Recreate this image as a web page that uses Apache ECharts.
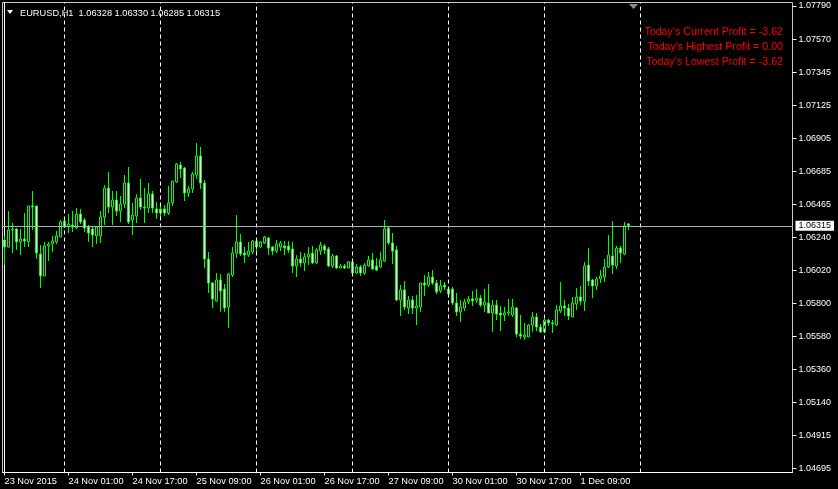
<!DOCTYPE html>
<html><head><meta charset="utf-8">
<script src="https://cdn.jsdelivr.net/npm/echarts@6/dist/echarts.min.js"></script>
<style>html,body{margin:0;padding:0;background:#000;}#c{width:838px;height:489px;}</style>
</head><body><div id="c"></div><script>
const titleText = 'EURUSD,H1  1.06328 1.06330 1.06285 1.06315';
const profitLines = ["Today's Current Profit = -3.62", "Today's Highest Profit = 0.00", "Today's Lowest Profit = -3.62"];
const xLabels = ['23 Nov 2015','24 Nov 01:00','24 Nov 17:00','25 Nov 09:00','26 Nov 01:00','26 Nov 17:00','27 Nov 09:00','30 Nov 01:00','30 Nov 17:00','1 Dec 09:00'];
const xLabelBars = [0,16,32,48,64,80,96,112,128,144];
const daySeparatorBars = [15,39,63,87,111,135,159];
const yLabels = ['1.04695','1.04915','1.05140','1.05360','1.05580','1.05800','1.06020','1.06240','1.06465','1.06685','1.06905','1.07125','1.07345','1.07570','1.07790'];
const lastPrice = 1.06315;

const openP = [1.06220,1.06173,1.06287,1.06294,1.06207,1.06227,1.06207,1.06448,1.06448,1.06126,
1.05979,1.06180,1.06193,1.06207,1.06240,1.06347,1.06307,1.06320,1.06300,1.06394,
1.06354,1.06307,1.06294,1.06247,1.06247,1.06374,1.06568,1.06441,1.06488,1.06414,
1.06461,1.06602,1.06354,1.06381,1.06501,1.06441,1.06434,1.06528,1.06428,1.06401,
1.06428,1.06401,1.06468,1.06609,1.06722,1.06702,1.06535,1.06562,1.06655,1.06783,
1.06602,1.06093,1.05932,1.05811,1.05952,1.05892,1.05771,1.05985,1.06133,1.06207,
1.06133,1.06119,1.06140,1.06213,1.06173,1.06200,1.06233,1.06173,1.06146,1.06173,
1.06180,1.06180,1.06160,1.06046,1.06093,1.06066,1.06106,1.06133,1.06066,1.06146,
1.06180,1.06160,1.06046,1.06113,1.06032,1.06046,1.06032,1.06073,1.05999,1.06039,
1.05999,1.06046,1.06086,1.06046,1.06039,1.06079,1.06300,1.06200,1.06153,1.05818,
1.05885,1.05764,1.05818,1.05764,1.05771,1.05932,1.05918,1.05972,1.05932,1.05878,
1.05918,1.05892,1.05892,1.05798,1.05738,1.05764,1.05805,1.05825,1.05818,1.05831,
1.05784,1.05798,1.05731,1.05784,1.05731,1.05717,1.05731,1.05717,1.05764,1.05590,
1.05570,1.05570,1.05650,1.05704,1.05637,1.05604,1.05684,1.05664,1.05650,1.05744,
1.05778,1.05764,1.05704,1.05791,1.05838,1.05811,1.06052,1.05952,1.05912,1.05959,
1.05972,1.06039,1.06113,1.06046,1.06166,1.06126,1.06328];
const closeP = [1.06173,1.06287,1.06294,1.06207,1.06227,1.06213,1.06448,1.06441,1.06133,1.05979,
1.06180,1.06193,1.06213,1.06247,1.06341,1.06307,1.06327,1.06307,1.06394,1.06341,
1.06300,1.06267,1.06253,1.06307,1.06374,1.06568,1.06441,1.06488,1.06414,1.06461,
1.06602,1.06341,1.06387,1.06501,1.06441,1.06434,1.06528,1.06434,1.06401,1.06428,
1.06401,1.06468,1.06615,1.06729,1.06696,1.06535,1.06562,1.06662,1.06783,1.06602,
1.06093,1.05932,1.05825,1.05952,1.05878,1.05764,1.05992,1.06133,1.06207,1.06126,
1.06119,1.06146,1.06213,1.06173,1.06207,1.06240,1.06166,1.06146,1.06193,1.06200,
1.06166,1.06153,1.06046,1.06093,1.06066,1.06106,1.06126,1.06066,1.06153,1.06186,
1.06153,1.06046,1.06113,1.06032,1.06046,1.06032,1.06073,1.05999,1.06039,1.05999,
1.06052,1.06086,1.06026,1.06019,1.06086,1.06294,1.06200,1.06146,1.05818,1.05885,
1.05771,1.05818,1.05764,1.05778,1.05932,1.05918,1.05972,1.05932,1.05872,1.05912,
1.05905,1.05858,1.05798,1.05738,1.05771,1.05805,1.05825,1.05811,1.05831,1.05784,
1.05805,1.05731,1.05784,1.05724,1.05717,1.05731,1.05738,1.05771,1.05590,1.05577,
1.05583,1.05650,1.05704,1.05637,1.05604,1.05684,1.05664,1.05657,1.05751,1.05778,
1.05764,1.05711,1.05798,1.05838,1.05811,1.06046,1.05945,1.05912,1.05959,1.05979,
1.06039,1.06119,1.06052,1.06166,1.06133,1.06314,1.06315];
const lowP = [1.06052,1.06170,1.06133,1.06153,1.06119,1.06173,1.06173,1.06287,1.06093,1.05898,
1.05979,1.06079,1.06140,1.06193,1.06240,1.06300,1.06267,1.06274,1.06294,1.06327,
1.06274,1.06207,1.06173,1.06193,1.06200,1.06320,1.06401,1.06320,1.06381,1.06341,
1.06434,1.06327,1.06253,1.06334,1.06421,1.06334,1.06401,1.06401,1.06361,1.06374,
1.06381,1.06387,1.06448,1.06602,1.06635,1.06481,1.06508,1.06535,1.06629,1.06562,
1.06032,1.05865,1.05764,1.05805,1.05738,1.05738,1.05630,1.05972,1.06099,1.06113,
1.06066,1.06106,1.06126,1.06133,1.06166,1.06193,1.06119,1.06119,1.06133,1.06146,
1.06119,1.06133,1.05999,1.05972,1.06039,1.06012,1.06052,1.06059,1.06059,1.06119,
1.06126,1.06039,1.06032,1.06026,1.06032,1.06026,1.06032,1.05992,1.05992,1.05979,
1.05985,1.06039,1.06019,1.06012,1.06032,1.06073,1.06186,1.06059,1.05811,1.05711,
1.05751,1.05724,1.05724,1.05650,1.05738,1.05845,1.05905,1.05918,1.05858,1.05865,
1.05885,1.05851,1.05784,1.05711,1.05671,1.05744,1.05791,1.05778,1.05798,1.05771,
1.05738,1.05731,1.05604,1.05684,1.05610,1.05677,1.05711,1.05704,1.05570,1.05557,
1.05550,1.05570,1.05604,1.05610,1.05597,1.05597,1.05644,1.05597,1.05644,1.05731,
1.05711,1.05684,1.05704,1.05751,1.05784,1.05744,1.05912,1.05831,1.05885,1.05932,
1.05939,1.06032,1.05992,1.06026,1.06066,1.06119,1.06285];
const highP = [1.06247,1.06414,1.06334,1.06300,1.06294,1.06401,1.06448,1.06548,1.06448,1.06186,
1.06207,1.06207,1.06247,1.06280,1.06354,1.06354,1.06394,1.06414,1.06434,1.06428,
1.06367,1.06320,1.06307,1.06314,1.06414,1.06588,1.06676,1.06548,1.06548,1.06515,
1.06655,1.06709,1.06468,1.06528,1.06629,1.06568,1.06602,1.06548,1.06474,1.06454,
1.06454,1.06582,1.06615,1.06736,1.06743,1.06709,1.06582,1.06676,1.06870,1.06843,
1.06622,1.06140,1.05939,1.05999,1.05992,1.05925,1.05999,1.06173,1.06387,1.06260,
1.06173,1.06207,1.06220,1.06227,1.06213,1.06247,1.06240,1.06180,1.06220,1.06213,
1.06213,1.06213,1.06207,1.06119,1.06140,1.06133,1.06173,1.06180,1.06166,1.06207,
1.06193,1.06173,1.06126,1.06119,1.06059,1.06059,1.06079,1.06086,1.06059,1.06052,
1.06066,1.06113,1.06133,1.06099,1.06140,1.06354,1.06307,1.06267,1.06180,1.05918,
1.05945,1.05845,1.05845,1.05851,1.05932,1.05985,1.06006,1.06019,1.05952,1.05952,
1.05939,1.05905,1.05905,1.05865,1.05818,1.05825,1.05845,1.05878,1.05892,1.05851,
1.05892,1.05925,1.05818,1.05818,1.05778,1.05771,1.05825,1.05825,1.05771,1.05717,
1.05664,1.05657,1.05738,1.05731,1.05657,1.05691,1.05691,1.05684,1.05784,1.05939,
1.05818,1.05791,1.05838,1.05898,1.05912,1.06073,1.06166,1.05959,1.05972,1.06019,
1.06093,1.06253,1.06347,1.06180,1.06180,1.06341,1.06330];

const candles = openP.map((o, i) => [i, o, closeP[i], lowP[i], highP[i]]);
const FONT = '"Liberation Sans", Arial, sans-serif';

const chart = echarts.init(document.getElementById('c'), null, {renderer: 'canvas'});
chart.setOption({
  animation: false,
  backgroundColor: '#000',
  grid: {left: 2.5, top: 2.5, right: 45.5, bottom: 16.5, show: true, borderColor: '#c8c8c8', borderWidth: 1, backgroundColor: 'transparent'},
  xAxis: {
    type: 'value', min: -0.5, max: 197, position: 'bottom',
    axisLine: {show: true, onZero: false, lineStyle: {color: '#fff', width: 1}},
    axisTick: {show: true, length: 3, lineStyle: {color: '#fff'}, customValues: xLabelBars},
    axisLabel: {show: true, customValues: xLabelBars, color: '#fff', fontFamily: FONT, fontSize: 9.25, align: 'left', margin: 4,
      formatter: v => xLabels[xLabelBars.indexOf(Math.round(v))] || ''},
    splitLine: {show: false}
  },
  yAxis: [{
    type: 'value', position: 'right', min: 1.046622, max: 1.078112, scale: true,
    axisLine: {show: true, lineStyle: {color: '#fff', width: 1}},
    axisTick: {show: false}, axisLabel: {show: false}, splitLine: {show: false}
  }, {
    type: 'value', position: 'right', min: -0.115, max: 14.106,
    axisLine: {show: false},
    axisTick: {show: true, length: 4, lineStyle: {color: '#fff'}, customValues: yLabels.map((_, i) => i)},
    axisLabel: {show: true, customValues: yLabels.map((_, i) => i), color: '#fff', fontFamily: FONT, fontSize: 9, margin: 6,
      formatter: v => yLabels[Math.round(v)] || ''},
    splitLine: {show: false}
  }],
  series: [{
    type: 'candlestick',
    yAxisIndex: 0,
    data: candles,
    encode: {x: 0, y: [1, 2, 3, 4]},
    barWidth: 2,
    itemStyle: {color: '#000', color0: '#fff', borderColor: '#00ff00', borderColor0: '#00ff00', borderColorDoji: '#00ff00', borderWidth: 1},
    emphasis: {disabled: true},
    markLine: {
      silent: true, symbol: ['none', 'none'], animation: false, precision: 5,
      data: daySeparatorBars.map(b => ({xAxis: b, lineStyle: {color: '#fff', type: [4, 3], width: 1}, label: {show: false}}))
        .concat([{yAxis: lastPrice, lineStyle: {color: '#a8b0b8', type: 'solid', width: 1},
          label: {show: true, position: 'end', formatter: lastPrice.toFixed(5), color: '#000', backgroundColor: '#fff',
            padding: [1, 3, 0, 3], fontSize: 9, lineHeight: 9, fontFamily: FONT, distance: 3}}])
    }
  }],
  graphic: [
    {type: 'polygon', shape: {points: [[7, 10], [13, 10], [10, 14]]}, style: {fill: '#fff'}},
    {type: 'text', x: 20, y: 13, style: {text: titleText, fill: '#fff', font: '9.25px ' + FONT, verticalAlign: 'middle'}},
    {type: 'polygon', shape: {points: [[629, 4], [638, 4], [633.5, 9]]}, style: {fill: '#8090a0'}},
    {type: 'text', x: 783, y: 32, style: {text: profitLines[0], fill: '#ff0000', font: '10.67px ' + FONT, align: 'right', verticalAlign: 'middle'}},
    {type: 'text', x: 783, y: 47, style: {text: profitLines[1], fill: '#ff0000', font: '10.67px ' + FONT, align: 'right', verticalAlign: 'middle'}},
    {type: 'text', x: 783, y: 62, style: {text: profitLines[2], fill: '#ff0000', font: '10.67px ' + FONT, align: 'right', verticalAlign: 'middle'}}
  ]
});
</script></body></html>
